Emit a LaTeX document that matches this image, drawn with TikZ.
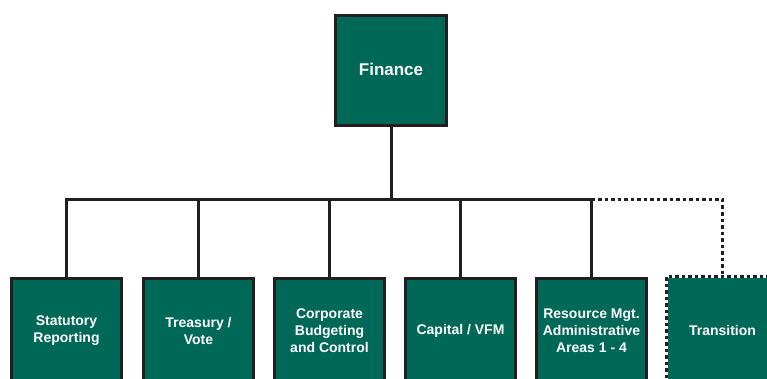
\documentclass[tikz,border=0pt]{standalone}
\usepackage{fontspec}
\setmainfont{Liberation Sans}
\definecolor{boxgreen}{RGB}{0,104,86}
\definecolor{linedark}{RGB}{35,31,32}
\tikzset{
  orgbox/.style={draw=linedark, line width=3pt, fill=boxgreen, text=white,
    font=\bfseries\fontsize{14}{17}\selectfont, align=center,
    minimum width=110pt, minimum height=105pt, inner sep=0pt, anchor=north},
  topbox/.style={orgbox, minimum width=111pt, minimum height=110pt,
    font=\bfseries\fontsize{17}{20}\selectfont},
  dotbox/.style={orgbox, draw=none},
  conn/.style={draw=linedark, line width=3pt},
  dotconn/.style={draw=linedark, line width=3pt, dash pattern=on 3.5pt off 3pt}
}
\begin{document}
\begin{tikzpicture}[x=1pt,y=-1pt]
\useasboundingbox (0,0) rectangle (767,379);
\clip (0,0) rectangle (767,379);
\node[topbox] (fin) at (391,14.5) {\raisebox{4pt}{Finance}};
\node[orgbox] (b1) at (66.5,276.5) {Statutory\\Reporting};
\node[orgbox] (b2) at (198.5,276.5) {Treasury /\\Vote};
\node[orgbox] (b3) at (329.5,276.5) {Corporate\\Budgeting\\and Control};
\node[orgbox] (b4) at (460.5,276.5) {Capital / VFM};
\node[orgbox] (b5) at (591.5,276.5) {Resource Mgt.\\Administrative\\Areas 1 - 4};
\node[dotbox] (b6) at (722.5,276.5) {Transition};
\draw[dotconn] (b6.south west) -- (b6.north west) -- (b6.north east) -- (b6.south east);
\coordinate (busy) at (0,200);
\draw[conn] (fin.south) -- (fin.south |- busy);
\draw[conn] (b1.north) -- (b1.north |- busy) -- (b5.north |- busy) -- (b5.north);
\draw[conn] (b2.north) -- (b2.north |- busy);
\draw[conn] (b3.north) -- (b3.north |- busy);
\draw[conn] (b4.north) -- (b4.north |- busy);
\draw[dotconn] (b5.north |- busy) -| (b6.north);
\end{tikzpicture}
\end{document}
